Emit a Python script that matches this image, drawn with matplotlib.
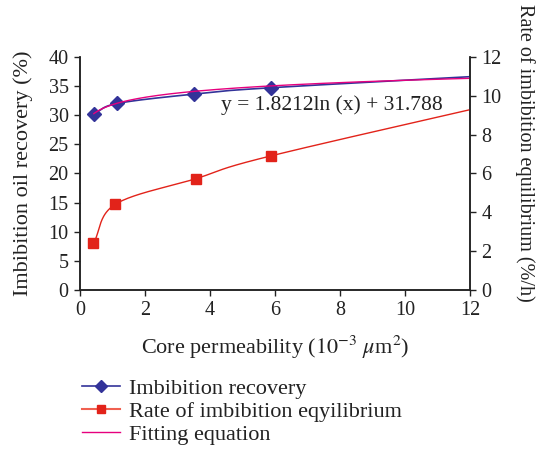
import numpy as np
import matplotlib
matplotlib.use("Agg")
import matplotlib.pyplot as plt
from matplotlib.lines import Line2D

plt.rcParams['font.family'] = ['Liberation Serif', 'DejaVu Serif']
plt.rcParams['mathtext.fontset'] = 'stix'

# data (last point sits just past the x limit)
perm = [0.43, 1.15, 3.5, 5.88, 14.0]
recovery = [30.2, 32.0, 33.6, 34.7, 37.2]
perm_rate = [0.42, 1.09, 3.57, 5.87, 14.0]
rate = [2.4, 4.41, 5.73, 6.9, 10.05]
fit_a = 1.8212
fit_b = 31.788


def smooth(x, y, n=40):
    # catmull-rom style smoothing, like the spreadsheet "smoothed line"
    x = np.asarray(x, float)
    y = np.asarray(y, float)
    px = np.concatenate([[2 * x[0] - x[1]], x, [2 * x[-1] - x[-2]]])
    py = np.concatenate([[2 * y[0] - y[1]], y, [2 * y[-1] - y[-2]]])
    xs, ys = [], []
    t = np.linspace(0, 1, n)
    for i in range(1, len(px) - 2):
        for p, out in ((px, xs), (py, ys)):
            p0, p1, p2, p3 = p[i - 1], p[i], p[i + 1], p[i + 2]
            out.extend(0.5 * (2 * p1 + (-p0 + p2) * t
                              + (2 * p0 - 5 * p1 + 4 * p2 - p3) * t ** 2
                              + (-p0 + 3 * p1 - 3 * p2 + p3) * t ** 3))
    return np.array(xs), np.array(ys)


blue = '#333399'
red = '#e2231a'
pink = '#e6007e'
ink = '#222222'

fig = plt.figure(figsize=(5.43, 4.51), dpi=100)
ax = fig.add_axes([0.147, 0.357, 0.719, 0.517])
ax2 = ax.twinx()

sx, sy = smooth(perm, recovery)
ax.plot(sx, sy, color=blue, lw=1.2, zorder=3)
ax.plot(perm, recovery, ls='none', marker='D', ms=7, color=blue, zorder=4)

fx = np.linspace(perm[0], 12, 200)
ax.plot(fx, fit_a * np.log(fx) + fit_b, color=pink, lw=1.0, zorder=5)

rx, ry = smooth(perm_rate, rate)
ax2.plot(rx, ry, color=red, lw=1.0)
ax2.plot(perm_rate, rate, ls='none', marker='s', ms=7, color=red)

ax.set_xlim(0, 12)
ax.set_ylim(0, 40)
ax2.set_ylim(0, 12)
ax.set_xticks(range(0, 13, 2))
ax.set_yticks(range(0, 41, 5))
ax2.set_yticks(range(0, 13, 2))

for a in (ax, ax2):
    a.spines['top'].set_visible(False)
    a.tick_params(labelsize=14.5, length=4, width=1, color=ink, labelcolor=ink, pad=4)
    for s in a.spines.values():
        s.set_linewidth(1.1)
        s.set_color(ink)

ax.set_xlabel(r'Core permeability ($10^{-3}$ $\mu$m$^2$)', fontsize=16, color=ink, labelpad=10)
ax.set_ylabel('Imbibition oil recovery (%)', fontsize=16, color=ink, labelpad=11)
ax2.set_ylabel('Rate of imbibition equilibrium (%/h)', fontsize=14.5, color=ink,
               rotation=-90, va='center', ha='center')
ax2.yaxis.set_label_coords(1.14, 0.59)

ax.text(7.75, 31.7, 'y = 1.8212ln (x) + 31.788', fontsize=15.5, color=ink,
        ha='center', va='center', zorder=6)

handles = [
    Line2D([], [], color=blue, marker='D', ms=6, lw=1.2),
    Line2D([], [], color='#f06050', marker='s', ms=6, markerfacecolor=red,
           markeredgecolor=red, lw=1.5),
    Line2D([], [], color=pink, lw=1.0),
]
labels = ['Imbibition recovery', 'Rate of imbibition eqyilibrium', 'Fitting equation']
fig.legend(handles, labels, loc='upper left', bbox_to_anchor=(0.135, 0.18),
           frameon=False, fontsize=16, handlelength=1.7, labelspacing=0.1,
           borderaxespad=0, handletextpad=0.4, labelcolor=ink)

fig.savefig('out.png', dpi=100)
